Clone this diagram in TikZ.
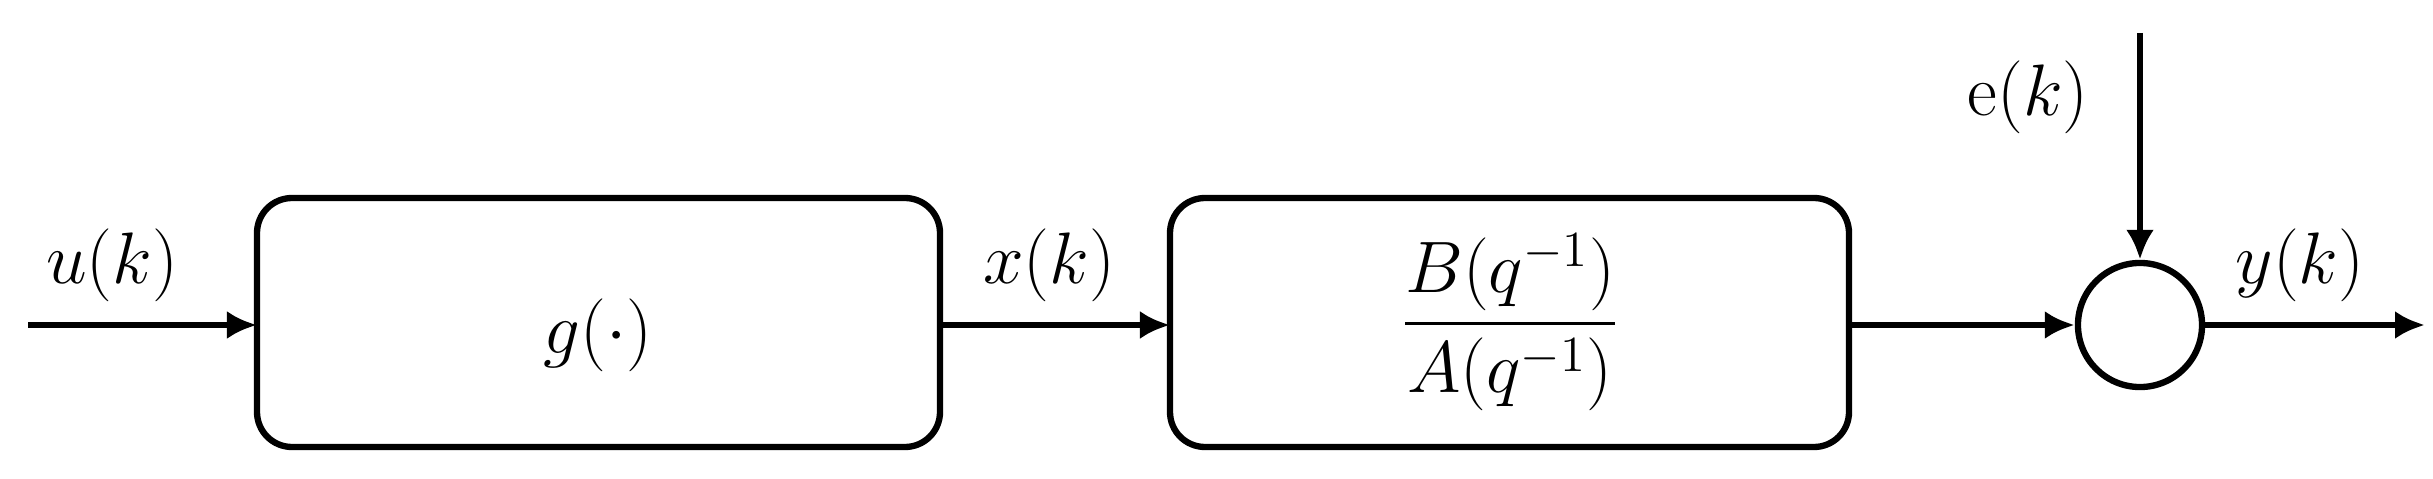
\documentclass[tikz,border=0pt]{standalone}
\usepackage{amsmath}
\usetikzlibrary{arrows.meta}
\begin{document}
\begin{tikzpicture}[x=0.01cm,y=-0.01cm,
  blk/.style={draw,line width=1.8pt,rounded corners=0.35cm},
  sig/.style={line width=1.8pt,-{Latex[length=0.3cm,width=0.28cm]}},
  lbl/.style={font=\fontsize{20}{24}\selectfont}]
\useasboundingbox (0,0) rectangle (2433,479);
\draw[blk] (257,198) rectangle (940,447);
\node (g) at (598,323) {};
\node[lbl] at (598,335) {$g(\cdot)$};
\draw[blk] (1170,198) rectangle (1849,447);
\node (h) at (1510,323) {};
\node[lbl] at (1510,322) {$\dfrac{B(q^{-1})}{A(q^{-1})}$};
\node[draw,circle,line width=1.8pt,minimum size=1.24cm,inner sep=0] (s) at (2140,325) {};
\coordinate (in) at (28,325);
\coordinate (out) at (2425,325);
\coordinate (etop) at (2140,33);
\draw[sig] (in) -- (257,325);
\draw[sig] (940,325) -- (1170,325);
\draw[sig] (1849,325) -- (s.west);
\draw[sig] (s.east) -- (out);
\draw[sig] (etop) -- (s.north);
\node[lbl] at (112,265) {$u(k)$};
\node[lbl] at (1049,265) {$x(k)$};
\node[lbl] at (2300,265) {$y(k)$};
\node[lbl] at (2028,97) {$\mathrm{e}(k)$};
\end{tikzpicture}
\end{document}
